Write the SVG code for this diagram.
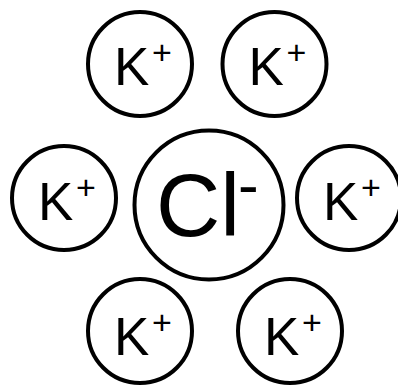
<svg xmlns="http://www.w3.org/2000/svg" width="398" height="386" viewBox="0 0 398 386">
<style>
.ion{fill:#fff;stroke:#000;stroke-width:4}
.k{font-family:"Liberation Sans",Arial,sans-serif;font-size:53px;fill:#000}
.p{font-family:"Liberation Sans",Arial,sans-serif;font-size:34px;fill:#000}
.cl{font-family:"Liberation Sans",Arial,sans-serif;font-size:89px;fill:#000}
.m{font-family:"Liberation Sans",Arial,sans-serif;font-size:62px;fill:#000}
</style>
<rect width="398" height="386" fill="#fff"/>
<g id="connectors"></g>
<g id="k1"><circle class="ion" cx="140" cy="64" r="52"/><text class="k" x="114" y="85">K</text><text class="p" x="152.1" y="64">+</text></g>
<g id="k2"><circle class="ion" cx="274.5" cy="64" r="52"/><text class="k" x="248.5" y="85">K</text><text class="p" x="286.6" y="64">+</text></g>
<g id="k3"><circle class="ion" cx="64" cy="198" r="52"/><text class="k" x="38" y="220">K</text><text class="p" x="76.1" y="199">+</text></g>
<g id="cl"><circle class="ion" cx="209" cy="205" r="74.5"/><text class="cl" x="156" y="236">Cl</text><text class="m" x="238" y="205.5">-</text></g>
<g id="k4"><circle class="ion" cx="349" cy="198" r="52"/><text class="k" x="323" y="220">K</text><text class="p" x="361.1" y="199">+</text></g>
<g id="k5"><circle class="ion" cx="140" cy="331" r="52"/><text class="k" x="114" y="355">K</text><text class="p" x="152.1" y="334">+</text></g>
<g id="k6"><circle class="ion" cx="290" cy="331" r="52"/><text class="k" x="264" y="355">K</text><text class="p" x="302.1" y="334">+</text></g>
</svg>
